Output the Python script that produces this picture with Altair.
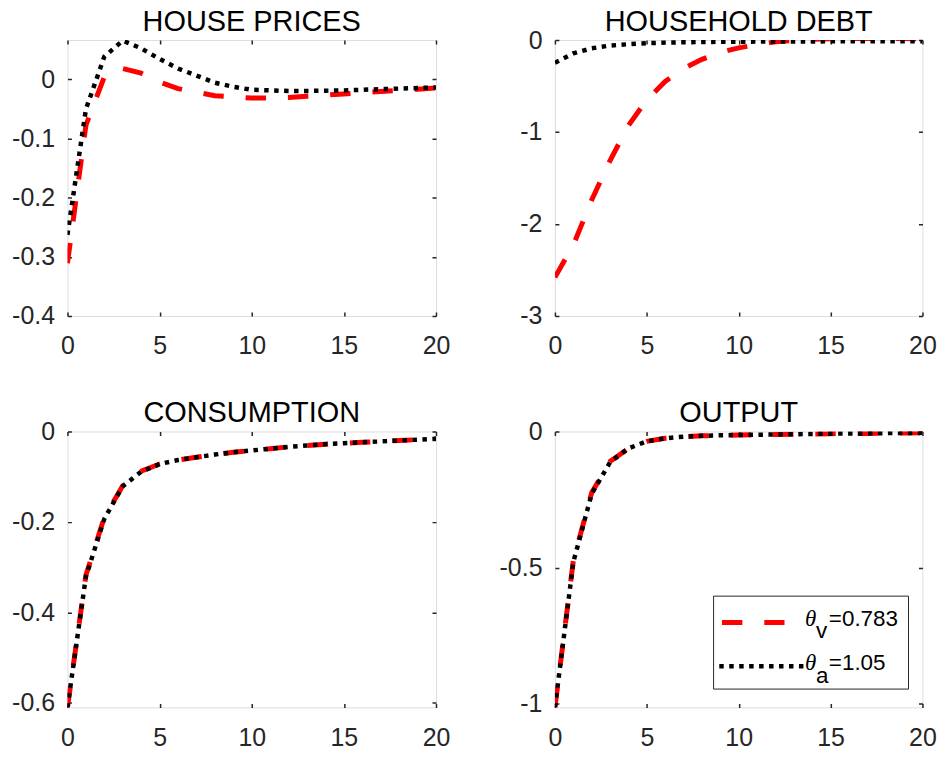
import altair as alt
import pandas as pd

# ---------------- data ----------------
periods = list(range(21))
series = ["theta_v", "theta_a"]
titles = ["HOUSE PRICES", "HOUSEHOLD DEBT", "CONSUMPTION", "OUTPUT"]
x_ticks = [0, 5, 10, 15, 20]

house_v = [-0.311, -0.078, 0.004, 0.018, 0.010, -0.005, -0.016, -0.022, -0.028, -0.030, -0.032,
           -0.032, -0.031, -0.029, -0.027, -0.025, -0.023, -0.021, -0.019, -0.017, -0.015]
house_a = [-0.263, -0.051, 0.038, 0.065, 0.052, 0.034, 0.018, 0.006, -0.006, -0.013, -0.018,
           -0.019, -0.020, -0.020, -0.0195, -0.019, -0.018, -0.017, -0.016, -0.015, -0.014]
debt_v = [-2.58, -2.23, -1.74, -1.31, -0.93, -0.65, -0.45, -0.31, -0.21, -0.135, -0.085,
          -0.05, -0.02, -0.005, 0.008, 0.014, 0.017, 0.018, 0.018, 0.016, 0.015]
debt_a = [-0.246, -0.145, -0.09, -0.06, -0.045, -0.035, -0.028, -0.024, -0.021, -0.019, -0.018,
          -0.017, -0.016, -0.015, -0.015, -0.014, -0.014, -0.013, -0.013, -0.013, -0.012]
cons_v = [-0.61, -0.318, -0.19, -0.12, -0.088, -0.072, -0.063, -0.057, -0.051, -0.046, -0.042,
          -0.038, -0.034, -0.031, -0.028, -0.026, -0.024, -0.022, -0.020, -0.018, -0.016]
cons_a = [-0.61, -0.321, -0.193, -0.121, -0.089, -0.072, -0.063, -0.057, -0.051, -0.046, -0.042,
          -0.038, -0.034, -0.031, -0.028, -0.026, -0.024, -0.022, -0.020, -0.018, -0.016]
out_v = [-1.013, -0.475, -0.225, -0.11, -0.062, -0.036, -0.025, -0.019, -0.016, -0.014, -0.013,
         -0.012, -0.011, -0.010, -0.009, -0.008, -0.007, -0.007, -0.006, -0.006, -0.005]
out_a = [-1.013, -0.48, -0.229, -0.113, -0.062, -0.036, -0.025, -0.019, -0.016, -0.014, -0.013,
         -0.012, -0.011, -0.010, -0.009, -0.008, -0.007, -0.007, -0.006, -0.006, -0.005]

y_domains = [[-0.4, 0.066], [-3, 0], [-0.61, 0], [-1.013, 0]]
y_ticks = [[0, -0.1, -0.2, -0.3, -0.4], [0, -1, -2, -3], [0, -0.2, -0.4, -0.6], [0, -0.5, -1]]

legend_subs = ["v", "a"]
legend_vals = ["0.783", "1.05"]

# ---------------- styling ----------------
FONT = "Liberation Sans"
INK = "#262626"
RED = "#FF0000"
TICK = 25
title_offsets = [-20, -31.5, -31, -31]


def legend_layers():
    one = pd.DataFrame({"k": [0]})
    box = alt.Chart(one).mark_rect(fill="white", stroke=INK, strokeWidth=1).encode(
        x=alt.value(159.3), x2=alt.value(355), y=alt.value(165.3), y2=alt.value(258.6))
    red_s = alt.Chart(one).mark_rule(color=RED, strokeWidth=5, strokeDash=[20.5, 22], strokeCap="butt").encode(
        x=alt.value(167.7), x2=alt.value(230.5), y=alt.value(191.8))
    blk_s = alt.Chart(one).mark_rule(color="black", strokeWidth=4.5, strokeDash=[4.5, 5.5], strokeCap="butt").encode(
        x=alt.value(165), x2=alt.value(249.5), y=alt.value(235.8))
    layers = [box, red_s, blk_s]
    rows = [(195.3, 207.6), (239.3, 252.6)]
    for i, (base_y, sub_y) in enumerate(rows):
        d = pd.DataFrame({"theta": ["θ"], "sub": [legend_subs[i]], "val": ["=" + legend_vals[i]]})
        c = alt.Chart(d)
        layers.append(c.mark_text(font="Liberation Serif", fontStyle="italic", fontSize=23, align="left",
                                  baseline="alphabetic", color="black").encode(
            text="theta:N", x=alt.value(251), y=alt.value(base_y)))
        layers.append(c.mark_text(font=FONT, fontSize=22.5, align="left", baseline="alphabetic", color="black").encode(
            text="sub:N", x=alt.value(262), y=alt.value(sub_y)))
        layers.append(c.mark_text(font=FONT, fontSize=22.5, align="left", baseline="alphabetic", color="black").encode(
            text="val:N", x=alt.value(275), y=alt.value(base_y)))
    return layers


def panel(k, red_vals, black_vals, w, h, legend=False):
    n = len(periods)
    df = pd.DataFrame({
        "period": periods + periods,
        "value": red_vals + black_vals,
        "series": [series[0]] * n + [series[1]] * n,
    })
    base = alt.Chart(df).encode(
        x=alt.X("period:Q",
                scale=alt.Scale(domain=[0, 20], nice=False, zero=False),
                axis=alt.Axis(values=x_ticks, title=None, grid=True, gridDash=[4, h - 8],
                              gridColor=INK, gridWidth=1.5, gridOpacity=1, domain=False,
                              ticks=False, tickSize=0, labelPadding=18, labelFontSize=TICK,
                              labelFont=FONT, labelColor=INK, labelFlush=False,
                              labelOverlap=False)),
        y=alt.Y("value:Q",
                scale=alt.Scale(domain=y_domains[k], nice=False, zero=False),
                axis=alt.Axis(values=y_ticks[k], title=None, grid=True, gridDash=[4, w - 8],
                              gridColor=INK, gridWidth=1.5, gridOpacity=1, domain=False,
                              ticks=False, tickSize=0, labelPadding=13, labelFontSize=TICK,
                              labelFont=FONT, labelColor=INK, labelFlush=False,
                              labelOverlap=False, labelExpr="toString(datum.value)")),
    )
    red = base.transform_filter(alt.datum.series == series[0]).mark_line(
        color=RED, strokeWidth=5, strokeDash=[20.5, 22], strokeCap="butt", clip=True)
    black = base.transform_filter(alt.datum.series == series[1]).mark_line(
        color="black", strokeWidth=4.5, strokeDash=[4.5, 5.5], strokeCap="butt", clip=True)
    # invisible spacer so every panel reserves the same room for its y labels
    spacer = alt.Chart(pd.DataFrame({"k": [0]})).mark_rule(opacity=0).encode(
        x=alt.value(-58), x2=alt.value(0), y=alt.value(h / 2))
    layers = [spacer, red, black]
    if legend:
        layers += legend_layers()
    return alt.layer(*layers).properties(
        width=w, height=h,
        title=alt.TitleParams(titles[k], font=FONT, fontSize=29, fontWeight="normal", color="black",
                              anchor="middle", frame="group", baseline="alphabetic",
                              offset=title_offsets[k]),
    )


p1 = panel(0, house_v, house_a, 370, 277)
p2 = panel(1, debt_v, debt_a, 369, 277)
p3 = panel(2, cons_v, cons_a, 370, 277)
p4 = panel(3, out_v, out_a, 369, 277, legend=True)

top = alt.hconcat(p1, p2, spacing=45.4)
bottom = alt.hconcat(p3, p4, spacing=45.4)
chart = (
    alt.vconcat(top, bottom, spacing=38)
    .properties(padding={"left": 0.7, "top": -2.3, "right": 0, "bottom": 0}, background="white")
    .configure_view(stroke=INK, strokeWidth=2)
    .configure(font=FONT)
)

chart.save("out.html", embed_options={"renderer": "svg", "actions": False})
